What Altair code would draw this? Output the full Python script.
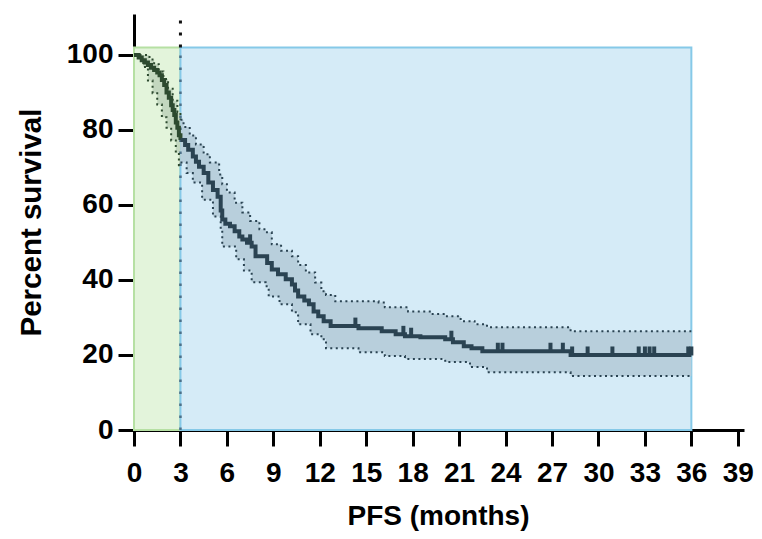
import altair as alt
import pandas as pd

# ---------------- data ----------------
# Kaplan-Meier curve, first 3 months (green zone)
green_t = [0, 0.3, 0.5, 0.7, 0.9, 1.1, 1.3, 1.5, 1.65, 1.8, 1.95, 2.1, 2.25, 2.4, 2.5, 2.6, 2.7, 2.8, 2.9, 3.0]
green_s = [100, 99.3, 98.6, 98.0, 97.3, 96.6, 96.0, 95.3, 94.6, 93.3, 92.0, 90.0, 88.6, 86.6, 85.3, 84.0, 82.0, 80.6, 78.6, 77.3]

# Kaplan-Meier curve, 3 to 36 months (blue zone)
blue_t = [3.0, 3.3, 3.5, 3.8, 4.0, 4.2, 4.5, 4.8, 5.1, 5.4, 5.6, 5.7, 5.9, 6.2, 6.5, 6.8, 7.0, 7.3, 7.6, 7.85,
          8.6, 8.9, 9.3, 9.8, 10.2, 10.4, 10.6, 11.0, 11.3, 11.6, 11.9, 12.25, 12.7, 14.5, 16.0, 16.9, 17.5,
          18.5, 20.1, 20.6, 21.3, 21.8, 22.5, 28.2, 36.0]
blue_s = [77.3, 76.0, 74.7, 72.9, 71.5, 70.2, 68.5, 66.0, 64.0, 62.2, 58.5, 56.1, 55.0, 54.3, 53.0, 51.6, 50.8, 49.9, 48.9, 46.3,
          44.5, 42.8, 41.5, 40.2, 38.8, 37.2, 35.6, 34.5, 33.5, 31.6, 30.3, 29.0, 27.7, 27.1, 26.3, 25.5, 25.0,
          24.7, 24.2, 23.4, 22.3, 21.8, 21.0, 20.0, 20.0]

# censored observations (months)
censor_t = [7.5, 14.3, 17.4, 17.9, 20.5, 23.5, 23.8, 26.9, 27.7, 28.3, 29.3, 30.9, 32.6, 33.0, 33.3, 33.6, 35.8, 36.0]

# 95% confidence band, green zone
green_up_t = [0, 0.6, 1.0, 1.3, 1.6, 1.9, 2.2, 2.5, 2.8, 3.0]
green_up_s = [100, 100, 98.8, 97.5, 95.6, 93.6, 91.0, 87.8, 84.8, 82.7]
green_lo_t = [0, 0.3, 0.6, 0.9, 1.2, 1.5, 1.8, 2.1, 2.4, 2.7, 2.9, 3.0]
green_lo_s = [100, 98.8, 96.8, 93.2, 89.8, 86.8, 83.4, 80.6, 77.2, 73.9, 70.6, 70.2]

# 95% confidence band, blue zone
blue_up_t = [3.0, 3.2, 3.6, 4.0, 4.5, 4.9, 5.5, 5.7, 6.0, 6.5, 7.0, 7.5, 8.1, 8.5, 8.9, 9.5, 10.2, 10.6, 11.1,
             11.7, 12.1, 12.4, 13.0, 15.8, 16.2, 17.7, 19.2, 20.1, 21.1, 22.0, 22.8, 28.2, 36.0]
blue_up_s = [82.7, 80.8, 78.5, 76.1, 73.5, 71.3, 68.1, 65.5, 63.3, 60.6, 58.0, 55.7, 53.5, 52.7, 49.5, 47.8, 46.3, 44.0, 42.0,
             39.3, 37.0, 36.0, 34.3, 34.0, 32.7, 31.6, 30.9, 30.3, 29.0, 28.2, 27.4, 26.3, 26.3]
blue_lo_t = [3.0, 3.4, 3.8, 4.4, 5.1, 5.6, 5.7, 6.6, 7.1, 7.6, 8.5, 8.7, 9.4, 10.2, 10.6, 11.4, 12.1, 12.4,
             14.5, 16.2, 17.5, 20.1, 21.7, 22.8, 28.2, 36.0]
blue_lo_s = [71.3, 68.5, 66.0, 61.4, 56.9, 53.5, 48.9, 45.5, 42.5, 39.4, 38.3, 35.6, 33.5, 31.4, 28.2, 25.5, 24.2, 21.8,
             20.7, 19.7, 18.9, 18.1, 16.8, 15.4, 14.4, 14.4]

# shaded zones (months)
zone_x = [0, 3, 36]
zone_top = 102

x_ticks = list(range(0, 40, 3))
y_ticks = [0, 20, 40, 60, 80, 100]

# ---------------- tables ----------------
def band(ut, us, lt, ls):
    u = pd.DataFrame({"t": [float(v) for v in ut], "hi": us})
    l = pd.DataFrame({"t": [float(v) for v in lt], "lo": ls})
    grid = pd.DataFrame({"t": sorted(set(u["t"]) | set(l["t"]))})
    g = pd.merge_asof(grid, u, on="t")
    g = pd.merge_asof(g, l, on="t")
    return g

km_green = pd.DataFrame({"t": green_t, "s": green_s})
km_blue = pd.DataFrame({"t": blue_t, "s": blue_s})
band_green = band(green_up_t, green_up_s, green_lo_t, green_lo_s)
band_blue = band(blue_up_t, blue_up_s, blue_lo_t, blue_lo_s)
up_green = pd.DataFrame({"t": green_up_t, "v": green_up_s})
lo_green = pd.DataFrame({"t": green_lo_t, "v": green_lo_s})
up_blue = pd.DataFrame({"t": blue_up_t, "v": blue_up_s})
lo_blue = pd.DataFrame({"t": blue_lo_t, "v": blue_lo_s})
cens = pd.merge_asof(pd.DataFrame({"t": [float(v) for v in censor_t]}),
                     km_blue.astype(float), on="t")

zones = pd.DataFrame({
    "x": zone_x[:-1], "x2": zone_x[1:], "y": [0, 0], "y2": [zone_top, zone_top],
    "zone": ["green", "blue"],
})

YMAX = 110.9
XMAX = 39.4
xs = alt.Scale(domain=[0, XMAX], nice=False, zero=False)
ys = alt.Scale(domain=[0, YMAX], nice=False, zero=True)

FONT = "Liberation Sans"

x_axis = alt.Axis(values=x_ticks, title="PFS (months)", labelFlush=False, labelOverlap=False,
                  labelPadding=13, titleX=304, titleY=94, titleBaseline="alphabetic",
                  titleFontSize=28)
y_axis = alt.Axis(values=y_ticks, title="Percent survival", labelPadding=5,
                  titleX=-94, titleY=208, titleBaseline="alphabetic", titleAngle=270,
                  titleFontSize=29.5)


def X(field):
    return alt.X(field, scale=xs, axis=x_axis)


def Y(field):
    return alt.Y(field, scale=ys, axis=y_axis)


green_rect = alt.Chart(zones[zones.zone == "green"]).mark_rect(
    fill="#e3f4db", stroke="#b6e0a3", strokeWidth=2
).encode(x=X("x:Q"), x2="x2:Q", y=Y("y:Q"), y2="y2:Q")
blue_rect = alt.Chart(zones[zones.zone == "blue"]).mark_rect(
    fill="#d5ebf7", stroke="#86c9e8", strokeWidth=2
).encode(x=X("x:Q"), x2="x2:Q", y=Y("y:Q"), y2="y2:Q")

rule_df = pd.DataFrame({"t": [3.0, 3.0], "y": [0, zone_top], "y2": [zone_top, YMAX], "part": ["in", "out"]})
rule_in = alt.Chart(rule_df[rule_df.part == "in"]).mark_rule(
    color="#4d7089", strokeWidth=2.5, strokeDash=[2.5, 9.5]
).encode(x=X("t:Q"), y=Y("y:Q"), y2="y2:Q")
rule_out = alt.Chart(rule_df[rule_df.part == "out"]).mark_rule(
    color="#111111", strokeWidth=3, strokeDash=[3, 9]
).encode(x=X("t:Q"), y=Y("y:Q"), y2="y2:Q")


def area(df, color):
    return alt.Chart(df).mark_area(interpolate="step-after", color=color, opacity=1).encode(
        x=X("t:Q"), y=Y("hi:Q"), y2="lo:Q")


def dotted(df, color):
    return alt.Chart(df).mark_line(interpolate="step-after", color=color, strokeWidth=2,
                                   strokeDash=[2, 3.5]).encode(x=X("t:Q"), y=Y("v:Q"))


def km(df, color):
    return alt.Chart(df).mark_line(interpolate="step-after", color=color, strokeWidth=4).encode(
        x=X("t:Q"), y=Y("s:Q"))


GREEN_LINE = "#2d4a2f"
BLUE_LINE = "#2a4352"

censors = alt.Chart(cens).mark_tick(
    orient="vertical", color=BLUE_LINE, thickness=4, size=9, yOffset=-4, opacity=1
).encode(x=X("t:Q"), y=Y("s:Q"))

chart = alt.layer(
    green_rect, blue_rect,
    area(band_green, "#c3d7bf"), area(band_blue, "#b8cfdc"),
    rule_in, rule_out,
    dotted(up_green, GREEN_LINE), dotted(lo_green, GREEN_LINE),
    dotted(up_blue, BLUE_LINE), dotted(lo_blue, BLUE_LINE),
    km(km_green, GREEN_LINE), km(km_blue, BLUE_LINE),
    censors,
).properties(
    width=610, height=416,
    autosize=alt.AutoSizeParams(type="none"),
    padding={"left": 126, "top": 6, "right": 10, "bottom": 101},
).configure_view(stroke=None).configure_axis(
    grid=False, domainColor="#000000", domainWidth=3, tickColor="#000000", tickWidth=3, tickSize=16,
    labelFont=FONT, labelFontSize=28, labelFontWeight="bold", labelColor="#000000",
    titleFont=FONT, titleFontWeight="bold", titleColor="#000000",
)

chart.save("out.html", embed_options={"renderer": "svg", "actions": False})
